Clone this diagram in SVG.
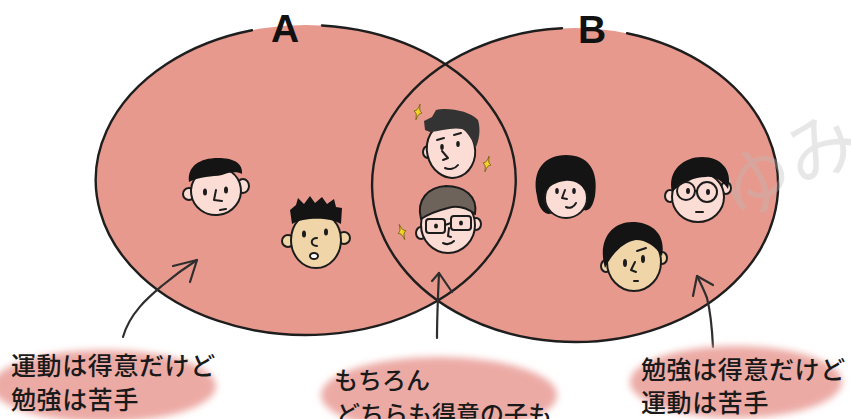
<svg xmlns="http://www.w3.org/2000/svg" width="851" height="419" viewBox="0 0 851 419">
  <defs>
    <style>
      .set { fill: #E8998D; }
      .rim { fill: none; stroke: #1e1e1e; stroke-width: 2.4; stroke-linecap: round; }
      .lbl { font-family: "Liberation Sans", Arial, sans-serif; font-weight: bold; font-size: 39px; fill: #111; }
      .note { font-family: "Noto Sans CJK JP", "Noto Sans", sans-serif; font-weight: 500; fill: #1a1a1a; }
      .blob { fill: #ECAAA5; filter: url(#soft); }
      .ol { stroke: #1c1c1c; stroke-width: 2; stroke-linejoin: round; stroke-linecap: round; }
      .skin { fill: #FBDDD5; }
      .tan { fill: #F0D5A8; }
      .hair { fill: #141414; }
      .feat { fill: none; stroke: #1c1c1c; stroke-width: 2; stroke-linecap: round; stroke-linejoin: round; }
      .dot { fill: #1c1c1c; }
      .arrow { fill: none; stroke: #2e2e2e; stroke-width: 2.2; stroke-linecap: round; stroke-linejoin: round; }
      .spark { fill: #F3D327; stroke: #6b5a10; stroke-width: 0.8; }
      .mark { font-family: "Noto Sans CJK JP", sans-serif; font-size: 74px; fill: #bdbdbd; opacity: 0.35; }
    </style>
    <filter id="soft" x="-20%" y="-40%" width="140%" height="180%">
      <feGaussianBlur stdDeviation="3.5"/>
    </filter>
    <path id="sparkle" d="M0 -8 C1 -2 1 -2 4 0 C1 2 1 2 0 8 C-1 2 -1 2 -4 0 C-1 -2 -1 -2 0 -8 Z"/>
  </defs>

  <rect width="851" height="419" fill="#ffffff"/>

  <!-- two overlapping sets -->
  <g id="sets">
    <ellipse class="set" cx="306" cy="180" rx="210" ry="155"/>
    <ellipse class="set" cx="575" cy="185" rx="203" ry="157"/>
    <path class="rim" d="M322 25.5 A210 155 0 1 1 252 30.2"/>
    <path class="rim" d="M627 33.2 A203 157 0 1 1 562 28.3"/>
    <text class="lbl" x="271" y="42">A</text>
    <text class="lbl" x="578" y="43">B</text>
  </g>

  <!-- faint signature -->
  <g id="signature" transform="translate(788 168) rotate(-28)">
    <text class="mark" x="-72" y="24">ゆみ</text>
  </g>

  <!-- A only: top face -->
  <g id="face-a1">
    <ellipse class="skin ol" cx="189" cy="194" rx="6" ry="6"/>
    <ellipse class="skin ol" cx="243" cy="186" rx="6" ry="7"/>
    <ellipse class="skin ol" cx="216" cy="191" rx="25" ry="24" transform="rotate(-8 216 191)"/>
    <path class="hair" d="M189 182 C187 166 200 158 218 158 C232 158 243 162 242 174 C238 171 228 172 222 175 C212 177 200 176 189 182 Z"/>
    <ellipse class="dot" cx="205" cy="192" rx="2" ry="3.5"/>
    <ellipse class="dot" cx="226" cy="190" rx="2" ry="3.5"/>
    <path class="feat" d="M216 190 L214 200 L222 201"/>
    <path class="feat" d="M220 210 L226 209"/>
  </g>

  <!-- A only: spiky hair face -->
  <g id="face-a2">
    <ellipse class="tan ol" cx="288" cy="241" rx="6" ry="6"/>
    <ellipse class="tan ol" cx="344" cy="238" rx="6" ry="6"/>
    <ellipse class="tan ol" cx="316" cy="240" rx="25" ry="28"/>
    <path class="hair" d="M292 224 L290 210 L296 205 L298 198 L304 204 L310 196 L315 203 L322 197 L327 204 L334 199 L336 207 L342 208 L341 224 C330 217 304 217 292 224 Z"/>
    <ellipse class="dot" cx="304" cy="234" rx="2" ry="3.5"/>
    <ellipse class="dot" cx="326" cy="232" rx="2" ry="3.5"/>
    <path class="feat" d="M317 238 C310 238 310 246 317 246"/>
    <ellipse class="ol" fill="#ffffff" cx="314" cy="256" rx="4" ry="3"/>
  </g>

  <!-- both: top face with sparkles -->
  <g id="face-ab1">
    <ellipse class="skin ol" cx="428" cy="152" rx="5" ry="6"/>
    <ellipse class="skin ol" cx="451" cy="150" rx="24" ry="28" transform="rotate(-12 451 150)"/>
    <path fill="#333333" d="M425 130 L424 121 L432 117 L436 110 C448 107 470 111 478 120 C481 130 479 140 476 147 C471 139 467 131 462 129 C452 127 440 131 430 132 Z"/>
    <path class="feat" d="M437 140 L444 138"/>
    <path class="feat" d="M454 135 L461 133"/>
    <ellipse class="dot" cx="442" cy="147" rx="1.8" ry="3"/>
    <ellipse class="dot" cx="458" cy="144" rx="1.8" ry="3"/>
    <path class="feat" d="M442 151 L448 158 L443 160"/>
    <path class="feat" d="M445 168 C449 170 455 169 458 165"/>
    <use href="#sparkle" class="spark" transform="translate(418 112) rotate(15)"/>
    <use href="#sparkle" class="spark" transform="translate(487 164) rotate(15)"/>
  </g>

  <!-- both: glasses face -->
  <g id="face-ab2">
    <ellipse class="skin ol" cx="421" cy="233" rx="5" ry="6"/>
    <ellipse class="skin ol" cx="476" cy="224" rx="5" ry="6"/>
    <ellipse class="skin ol" cx="448" cy="225" rx="27" ry="28"/>
    <path fill="#6d635b" class="ol" d="M421 219 C416 200 428 187 446 186 C464 186 478 196 475 214 C467 208 458 205 448 208 C440 210 430 213 421 219 Z"/>
    <rect class="ol" fill="none" x="426" y="219" width="19" height="14" rx="3"/>
    <rect class="ol" fill="none" x="451" y="216" width="20" height="14" rx="3"/>
    <path class="feat" d="M445 225 L451 223"/>
    <ellipse class="dot" cx="436" cy="226" rx="2" ry="2.5"/>
    <ellipse class="dot" cx="461" cy="223" rx="2" ry="2.5"/>
    <path class="feat" d="M449 228 L448 236 L451 237"/>
    <path class="feat" d="M443 243 C447 245 451 244 454 241"/>
    <use href="#sparkle" class="spark" transform="translate(402 232) rotate(-20)"/>
  </g>

  <!-- B only: bob hair face -->
  <g id="face-b1">
    <path class="hair" d="M537 196 C531 170 545 155 566 155 C588 155 599 170 595 196 C593 206 589 212 584 210 L548 214 C541 212 538 204 537 196 Z"/>
    <ellipse class="skin ol" cx="566" cy="198" rx="21" ry="20"/>
    <path class="hair" d="M543 193 C546 174 558 167 570 168 C584 169 591 180 589 195 C582 184 574 180 565 181 C556 182 549 186 543 193 Z"/>
    <ellipse class="dot" cx="557" cy="191" rx="1.8" ry="3"/>
    <ellipse class="dot" cx="574" cy="191" rx="1.8" ry="3"/>
    <path class="feat" d="M565 190 L562 198 L567 199"/>
    <path class="feat" d="M566 207 C570 209 574 207 576 203"/>
  </g>

  <!-- B only: round glasses face -->
  <g id="face-b2">
    <ellipse class="skin ol" cx="670" cy="196" rx="5" ry="6"/>
    <ellipse class="skin ol" cx="726" cy="188" rx="5" ry="6"/>
    <ellipse class="skin ol" cx="698" cy="197" rx="26" ry="25"/>
    <path class="hair" d="M672 192 C667 170 684 157 702 157 C721 157 733 170 728 189 C722 180 714 176 706 177 C694 177 682 183 672 192 Z"/>
    <circle class="ol" fill="none" cx="686" cy="191" r="9" stroke-width="2.6"/>
    <circle class="ol" fill="none" cx="707" cy="192" r="10" stroke-width="2.6"/>
    <path class="feat" d="M695 191 L697 191"/>
    <ellipse class="dot" cx="688" cy="191" rx="2" ry="3"/>
    <ellipse class="dot" cx="708" cy="192" rx="2" ry="3"/>
    <path class="feat" d="M696 212 L703 212"/>
  </g>

  <!-- B only: lower face -->
  <g id="face-b3">
    <ellipse class="tan ol" cx="606" cy="266" rx="5" ry="6"/>
    <ellipse class="tan ol" cx="662" cy="258" rx="5" ry="6"/>
    <ellipse class="tan ol" cx="634" cy="262" rx="27" ry="29"/>
    <path class="hair" d="M605 268 C597 240 612 222 632 222 C654 222 666 236 662 256 C655 246 646 240 636 240 C624 242 613 252 605 268 Z"/>
    <path class="feat" d="M637 251 L646 248"/>
    <ellipse class="dot" cx="625" cy="263" rx="2" ry="4"/>
    <ellipse class="dot" cx="643" cy="259" rx="2" ry="4"/>
    <path class="feat" d="M635 262 L631 270 L636 272"/>
    <path class="feat" d="M634 281 L638 281"/>
  </g>

  <!-- callout pointers -->
  <g id="connectors">
    <path class="arrow" d="M123 337 C130 312 150 296 163 285 C175 275 186 267 197 260"/>
    <path class="arrow" d="M173 266 L197 260 L190 282"/>
    <path class="arrow" d="M437 338 C437 316 438 296 439 273"/>
    <path class="arrow" d="M432 281 L439 273 L452 292"/>
    <path class="arrow" d="M713 347 C712 326 709 306 707 298 C704 290 700 282 697 276"/>
    <path class="arrow" d="M693 296 L697 276 L713 285"/>
  </g>

  <!-- captions -->
  <g id="note-a">
    <ellipse class="blob" cx="104" cy="386" rx="112" ry="36"/>
    <text class="note" font-size="25" letter-spacing="0.6" x="11" y="375">運動は得意だけど</text>
    <text class="note" font-size="25" letter-spacing="0.6" x="11" y="409">勉強は苦手</text>
  </g>
  <g id="note-ab">
    <ellipse class="blob" cx="439" cy="395" rx="118" ry="38"/>
    <text class="note" font-size="24" x="334" y="389">もちろん</text>
    <text class="note" font-size="24" x="336" y="423">どちらも得意の子も</text>
  </g>
  <g id="note-b">
    <ellipse class="blob" cx="736" cy="382" rx="106" ry="36"/>
    <text class="note" font-size="25" letter-spacing="0.6" x="641" y="379">勉強は得意だけど</text>
    <text class="note" font-size="25" letter-spacing="0.6" x="641" y="412">運動は苦手</text>
  </g>
</svg>
